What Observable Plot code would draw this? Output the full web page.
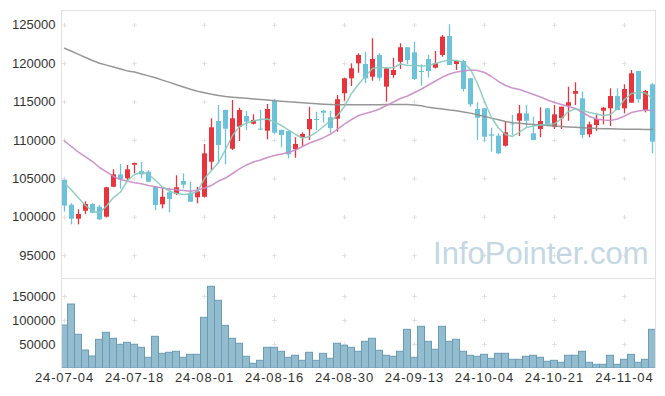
<!DOCTYPE html>
<html><head><meta charset="utf-8">
<script src="https://cdn.jsdelivr.net/npm/d3@7"></script>
<script src="https://cdn.jsdelivr.net/npm/@observablehq/plot@0.6"></script>
<style>
html,body{margin:0;padding:0;background:#fff;}
#chart{position:relative;width:665px;height:396px;overflow:hidden;}
#chart svg{display:block;}
#chart svg [aria-label="x-axis tick label"] text{letter-spacing:0.9px;}
</style></head><body><div id="chart"></div>
<script>
const dates = ["24-07-04","24-07-05","24-07-08","24-07-09","24-07-10","24-07-11","24-07-12","24-07-15","24-07-16","24-07-17",
"24-07-18","24-07-19","24-07-22","24-07-23","24-07-24","24-07-25","24-07-26","24-07-29","24-07-30","24-07-31",
"24-08-01","24-08-02","24-08-05","24-08-06","24-08-07","24-08-08","24-08-09","24-08-12","24-08-13","24-08-14",
"24-08-16","24-08-19","24-08-20","24-08-21","24-08-22","24-08-23","24-08-26","24-08-27","24-08-28","24-08-29",
"24-08-30","24-09-02","24-09-03","24-09-04","24-09-05","24-09-06","24-09-09","24-09-10","24-09-11","24-09-12",
"24-09-13","24-09-19","24-09-20","24-09-23","24-09-24","24-09-25","24-09-26","24-09-27","24-09-30","24-10-02",
"24-10-04","24-10-07","24-10-08","24-10-10","24-10-11","24-10-14","24-10-15","24-10-16","24-10-17","24-10-18",
"24-10-21","24-10-22","24-10-23","24-10-24","24-10-25","24-10-28","24-10-29","24-10-30","24-10-31","24-11-01",
"24-11-04","24-11-05","24-11-06","24-11-07","24-11-08"];
const open = [104800,101560,99740,100780,101650,101300,100000,103900,105520,105000,
106770,105950,105860,103900,101610,103180,102990,104650,103120,102530,
102600,107160,112460,113890,108850,111720,113110,112110,111460,111200,
115100,111290,111160,108780,110290,111380,112720,113800,112940,112760,
116070,118020,119970,119880,118230,121050,116930,118450,120180,122060,
121400,118970,120530,119400,121050,123530,119880,120270,118020,114020,
114110,110730,110550,109240,112110,112500,113460,110860,111420,114110,
111720,112810,114450,116010,115420,110730,111940,113800,114110,115710,
114110,114840,118970,113890,117240];
const high = [104850,101750,100960,102000,101750,101520,103900,106170,106860,106730,
107050,107120,106070,103990,103830,103780,105390,105650,104560,103900,
109470,112810,114540,113950,115190,114190,113760,113330,113890,114670,
115320,111350,111200,110340,110990,114320,113670,113890,113800,115850,
118100,119970,121270,121480,123230,121270,119400,120700,122580,122100,
122780,119840,121050,121570,123660,125050,120270,120400,118050,114900,
114150,111590,110860,112460,113240,114540,114540,113020,114240,114150,
114540,114320,116930,117500,116280,112370,113330,114320,116720,116720,
117240,119100,118970,116500,117370];
const low = [100650,99010,99010,100350,100450,99570,99900,103830,103650,104690,
105650,105000,104480,100870,101090,100570,102830,103700,101900,101750,
102500,106080,106950,106820,108680,109860,111290,112000,111330,110080,
110730,109040,107600,107680,109210,109990,111290,112240,110860,111070,
115100,117020,118750,117370,117710,117710,114970,118100,119230,119840,
117800,117060,118100,119300,120830,119750,119100,116280,114320,109990,
109770,108460,108160,109140,110640,110510,111720,109950,110340,111850,
111420,111420,112500,114540,110210,110340,111160,112030,111810,113890,
113460,114840,114840,113590,108250];
const close = [101450,99740,100350,101650,100520,99660,103830,105520,104870,106170,
106990,105520,104560,101520,102600,102300,103830,104170,101950,103310,
108250,111640,109340,111460,112810,113890,112370,112590,111330,114020,
110940,110640,108120,109470,110770,112720,112590,113540,111550,115290,
118020,119320,121050,118020,120530,118100,119320,119100,122060,120400,
117930,118840,118970,119970,123440,119750,120270,116630,114630,112890,
110420,110550,108250,110990,112030,113460,112500,109990,112460,111850,
113330,114320,114900,116370,110640,112030,112720,114190,115710,113890,
116630,118670,115290,116370,109770];
const volume = [89600,133300,70200,37500,25000,59800,74400,61900,49400,53500,
49400,43100,22300,66000,30600,32700,34800,22300,28500,28500,
105600,170200,141000,88900,61900,51500,24400,9800,16000,43100,
43100,34800,22300,26500,16000,32700,16000,30600,20200,51500,
47300,43100,34800,55600,61900,36900,26500,24400,34800,80600,
22300,86900,55600,39000,86900,55600,59800,34800,26500,24400,
28500,20200,30600,30600,18100,18100,24400,26500,22300,14000,
16000,11900,26500,26500,34800,11900,7700,7700,26500,7700,
18100,28500,11900,18100,80600];
const ma5 = [104450,103540,102500,101520,100830,100550,101460,102560,103280,104780,
105560,105860,105620,104780,103930,103410,103090,102960,103020,103350,
105040,106080,107120,108810,110640,111810,112240,112530,112720,112790,
112400,111940,111350,110770,110310,110510,111090,111810,112530,113240,
114410,116110,117300,118380,119360,119530,119420,119490,119950,119750,
119750,119690,119750,120010,120270,120460,120400,120140,119230,117410,
115060,112980,111610,110770,110510,111090,111680,111870,112000,112070,
112160,112850,113760,114110,113890,113630,113440,113240,113370,114150,
115320,116110,116280,116170,115450];
const ma20 = [109920,109200,108460,107840,107250,106470,105890,105300,104910,104670,
104480,104350,104130,103960,103800,103670,103570,103480,103390,103540,
103800,104130,104710,105100,105690,106280,106800,107190,107450,107770,
108030,108230,108420,108750,109200,109660,109990,110350,110830,111480,
112130,112720,113240,113500,113760,114090,114540,115000,115450,115780,
116240,116690,117210,117730,118250,118640,118900,119030,119170,119100,
118840,118320,117670,117150,116820,116630,116300,115980,115650,115260,
114930,114670,114410,114150,113630,113110,112790,112660,112590,112790,
113180,113630,113830,113960,113890];
const ma60 = [122000,121600,121200,120800,120400,120050,119800,119550,119300,119050,
118900,118650,118400,118150,117850,117550,117250,116950,116650,116400,
116200,116000,115850,115700,115620,115550,115480,115400,115330,115250,
115170,115100,115020,114970,114900,114840,114780,114720,114680,114650,
114630,114630,114630,114630,114640,114650,114660,114670,114670,114670,
114600,114500,114300,114200,114100,113950,113850,113700,113550,113350,
113100,112900,112700,112450,112300,112220,112150,112080,112020,111950,
111880,111820,111750,111700,111650,111600,111560,111520,111500,111480,
111460,111450,111440,111430,111420];
const priceTicks = [95000,100000,105000,110000,115000,120000,125000];
const volumeTicks = [50000,100000,150000];
const dateTickStep = 10;
const watermark = "InfoPointer.com";

const rows = dates.map((d, i) => ({i, date: d, open: open[i], high: high[i], low: low[i], close: close[i],
  volume: volume[i], ma5: ma5[i], ma20: ma20[i], ma60: ma60[i], up: close[i] >= open[i]}));
const xTicks = rows.filter(d => d.i % dateTickStep === 0).map(d => d.i);
const xDomain = [-0.43, 84.43];
const FONT = "'Liberation Sans', Arial, sans-serif";
const UP = "#e8343c", DOWN = "#6cc2da";
const gridP = xTicks.flatMap(x => priceTicks.map(y => ({x, y})));
const gridV = xTicks.flatMap(x => volumeTicks.map(y => ({x, y})));
const style = {fontFamily: FONT, fontSize: "13px", color: "#333", background: "transparent", overflow: "visible"};
const num = d => String(d);

const price = Plot.plot({
  width: 665, height: 278, marginTop: 10, marginBottom: 0, marginLeft: 61, marginRight: 10,
  style,
  x: {type: "linear", domain: xDomain, axis: null},
  y: {domain: [92019, 126912], axis: null},
  color: {type: "identity"},
  marks: [
    Plot.dot(gridP, {x: "x", y: "y", symbol: "plus", r: 1.6, stroke: "#e0e0e0", strokeWidth: 1}),
    Plot.text([watermark], {frameAnchor: "bottom-right", dx: -7, dy: -24, lineAnchor: "middle", textAnchor: "end",
      fontSize: 31, fill: "#c4d8e3", fontFamily: FONT}),
    Plot.ruleX(rows, {x: "i", y1: "low", y2: "high", stroke: d => d.up ? UP : DOWN, strokeWidth: 1.3, clip: true}),
    Plot.ruleX(rows, {x: "i", y1: "open", y2: "close", stroke: d => d.up ? UP : DOWN, strokeWidth: 5, clip: true}),
    Plot.line(rows, {x: "i", y: "ma60", stroke: "#8c8c8c", strokeWidth: 1.5, strokeOpacity: 0.9}),
    Plot.line(rows, {x: "i", y: "ma20", stroke: "#c98ac7", strokeWidth: 1.5, strokeOpacity: 0.9}),
    Plot.line(rows, {x: "i", y: "ma5", stroke: "#86cabd", strokeWidth: 1.5, strokeOpacity: 0.9}),
    Plot.axisY(priceTicks, {tickSize: 0, tickPadding: 6, fontSize: 13, fill: "#333", label: null, tickFormat: num}),
    Plot.frame({stroke: "#e2e2e2"})
  ]
});

const vol = Plot.plot({
  width: 665, height: 118, marginTop: 0, marginBottom: 28, marginLeft: 61, marginRight: 10,
  style,
  x: {type: "linear", domain: xDomain, axis: null},
  y: {domain: [0, 187500], axis: null},
  marks: [
    Plot.dot(gridV, {x: "x", y: "y", symbol: "plus", r: 1.6, stroke: "#e0e0e0", strokeWidth: 1}),
    Plot.rectY(rows, {x1: d => d.i - 0.5, x2: d => d.i + 0.5, y: "volume", fill: "#93bccf", stroke: "#6a9cb4",
      strokeWidth: 1, clip: true}),
    Plot.axisY(volumeTicks, {tickSize: 0, tickPadding: 6, fontSize: 13, fill: "#333", label: null, tickFormat: num}),
    Plot.axisX(xTicks, {tickSize: 0, tickPadding: 4, fontSize: 13, fill: "#333", label: null,
      tickFormat: i => dates[i]}),
    Plot.ruleX([xDomain[0], xDomain[1]], {stroke: "#e2e2e2"})
  ]
});

const root = document.getElementById("chart");
root.appendChild(price);
root.appendChild(vol);
</script></body></html>
